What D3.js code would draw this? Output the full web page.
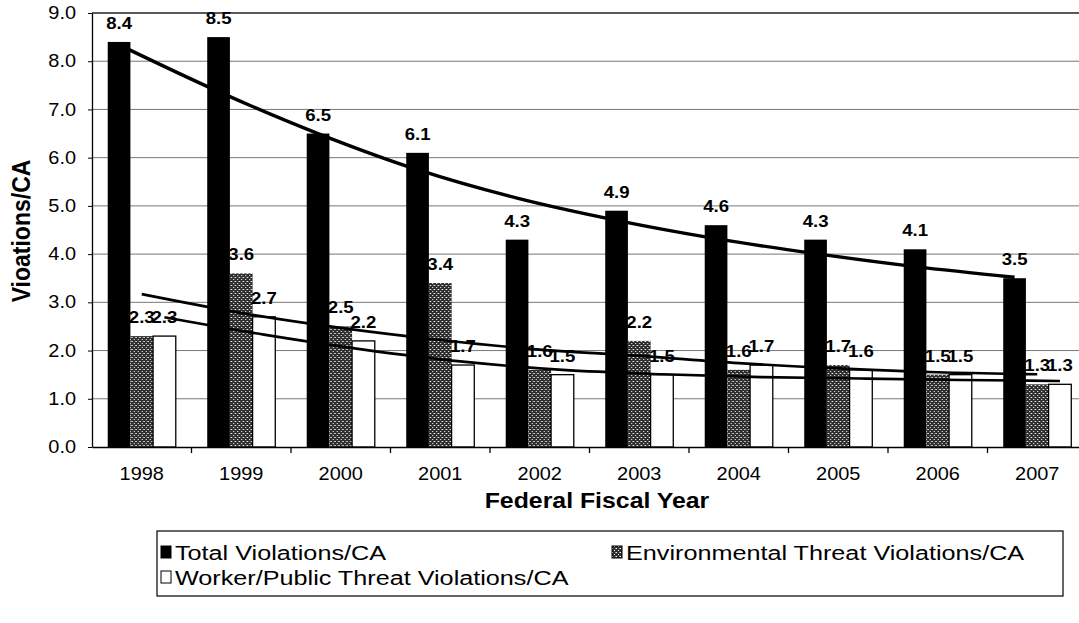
<!DOCTYPE html>
<html lang="en">
<head>
<meta charset="UTF-8">
<title>Violations per CA</title>
<script src="https://d3js.org/d3.v7.min.js"></script>
<style>
  body { margin: 0; background: #fff; }
  text { font-family: "Liberation Sans", Arial, sans-serif; fill: #000; }
</style>
</head>
<body>
<div id="chart"></div>
<script>
// data
const years = ['1998', '1999', '2000', '2001', '2002', '2003', '2004', '2005', '2006', '2007'];
const totalVals  = [8.4, 8.5, 6.5, 6.1, 4.3, 4.9, 4.6, 4.3, 4.1, 3.5];
const envVals    = [2.3, 3.6, 2.5, 3.4, 1.6, 2.2, 1.6, 1.7, 1.5, 1.3];
const workerVals = [2.3, 2.7, 2.2, 1.7, 1.5, 1.5, 1.7, 1.6, 1.5, 1.3];
// trend lines as drawn in the picture (value at each bar centre)
const totalTrend  = [8.34, 7.37, 6.50, 5.75, 5.16, 4.70, 4.32, 4.01, 3.74, 3.52];
const envTrend    = [3.17, 2.78, 2.47, 2.22, 2.02, 1.89, 1.74, 1.63, 1.55, 1.51];
const workerTrend = [2.69, 2.33, 2.02, 1.77, 1.60, 1.51, 1.45, 1.42, 1.39, 1.37];
const yTicks = [0, 1, 2, 3, 4, 5, 6, 7, 8, 9];
const seriesKeys = ['total', 'env', 'worker'];
const seriesNames = ['Total Violations/CA', 'Environmental Threat Violations/CA', 'Worker/Public Threat Violations/CA'];

const margin = {top: 13, right: -8, bottom: 176, left: 92},
    width = 1079 - margin.left - margin.right,
    height = 623 - margin.top - margin.bottom;
const sx = 1.14; // text in the picture is a bit wide

const svg0 = d3.select('#chart').append('svg')
    .attr('width', 1079).attr('height', 623);

const defs = svg0.append('defs');
const pat = defs.append('pattern').attr('id', 'dots')
    .attr('width', 4).attr('height', 4).attr('patternUnits', 'userSpaceOnUse');
pat.append('rect').attr('width', 4).attr('height', 4).attr('fill', '#2e2e2e');
pat.append('rect').attr('x', 0).attr('y', 0).attr('width', 1).attr('height', 1).attr('fill', '#fff');
pat.append('rect').attr('x', 2).attr('y', 2).attr('width', 1).attr('height', 1).attr('fill', '#fff');
pat.append('rect').attr('x', 3).attr('y', 0).attr('width', 1).attr('height', 1).attr('fill', '#999');

const fills = {total: '#000', env: 'url(#dots)', worker: '#fff'};

const svg = svg0.append('g')
    .attr('transform', `translate(${margin.left}, ${margin.top})`);

const x0 = d3.scaleBand().domain(years).range([0, width])
    .paddingInner(0.316).paddingOuter(0.158);
const x1 = d3.scaleBand().domain(seriesKeys).range([0, x0.bandwidth()]);
const y = d3.scaleLinear().domain([0, 9]).range([height, 0]);

// grid
svg.append('g').selectAll('line')
    .data(yTicks.slice(1))
    .join('line')
        .attr('x1', 0).attr('x2', width)
        .attr('y1', d => y(d)).attr('y2', d => y(d))
        .attr('stroke', d => d === 9 ? '#222' : '#777')
        .attr('stroke-width', d => d === 9 ? 1.5 : 1);

// bars
const rows = years.map((yr, i) => ({
    year: yr,
    vals: [
        {key: 'total', v: totalVals[i]},
        {key: 'env', v: envVals[i]},
        {key: 'worker', v: workerVals[i]}
    ]
}));

const groups = svg.selectAll('.grp')
    .data(rows)
    .join('g')
        .attr('class', 'grp')
        .attr('transform', d => `translate(${x0(d.year)}, 0)`);

groups.selectAll('rect')
    .data(d => d.vals)
    .join('rect')
        .attr('x', d => x1(d.key))
        .attr('y', d => y(d.v))
        .attr('width', x1.bandwidth())
        .attr('height', d => height - y(d.v))
        .attr('fill', d => fills[d.key])
        .attr('stroke', d => d.key === 'worker' ? '#000' : 'none')
        .attr('stroke-width', 1.3);

// axes
const yAxis = svg.append('g')
    .call(d3.axisLeft(y).tickValues(yTicks).tickFormat(d3.format('.1f'))
        .tickSize(4).tickSizeOuter(0).tickPadding(10));
yAxis.selectAll('text')
    .style('font-size', '17.5px')
    .attr('transform', `scale(${sx},1)`);
yAxis.select('.domain').attr('stroke-width', 1.3);

const xAxis = svg.append('g')
    .attr('transform', `translate(0, ${height})`)
    .call(d3.axisBottom(x0).tickSize(0).tickPadding(20.4));
xAxis.selectAll('text')
    .style('font-size', '17.5px')
    .attr('transform', `scale(${sx},1)`);
xAxis.select('.domain').attr('stroke-width', 1.3);

// category separators below the axis
const edges = years.map(d => x0(d) - (x0.step() - x0.bandwidth()) / 2);
svg.append('g').selectAll('line')
    .data(edges.slice(1))
    .join('line')
        .attr('x1', d => d).attr('x2', d => d)
        .attr('y1', height).attr('y2', height + 6)
        .attr('stroke', '#000').attr('stroke-width', 1.3);

// trend lines
const trends = [
    {key: 'total', vals: totalTrend, w: 3.4},
    {key: 'env', vals: envTrend, w: 2.6},
    {key: 'worker', vals: workerTrend, w: 2.6}
];
const line = (key) => d3.line()
    .x((d, i) => x0(years[i]) + x1(key) + x1.bandwidth() / 2)
    .y(d => y(d))
    .curve(d3.curveMonotoneX);

svg.selectAll('.trend')
    .data(trends)
    .join('path')
        .attr('class', 'trend')
        .attr('d', d => line(d.key)(d.vals))
        .attr('fill', 'none')
        .attr('stroke', '#000')
        .attr('stroke-width', d => d.w);

// value labels
groups.selectAll('.lbl')
    .data(d => d.vals)
    .join('text')
        .attr('class', 'lbl')
        .attr('transform', d => `translate(${x1(d.key) + x1.bandwidth() / 2}, ${y(d.v) - 13}) scale(${sx},1)`)
        .attr('text-anchor', 'middle')
        .style('font-size', '16.3px')
        .style('font-weight', 'bold')
        .text(d => d3.format('.1f')(d.v));

// axis titles
svg0.append('text')
    .attr('transform', `translate(597, 508) scale(${sx},1)`)
    .attr('text-anchor', 'middle')
    .style('font-size', '21.8px')
    .style('font-weight', 'bold')
    .text('Federal Fiscal Year');

svg0.append('text')
    .attr('transform', `translate(30, 231) rotate(-90) scale(1,${sx})`)
    .attr('text-anchor', 'middle')
    .style('font-size', '23px')
    .style('font-weight', 'bold')
    .text('Vioations/CA');

// legend
const legend = svg0.append('g');
legend.append('rect')
    .attr('x', 157).attr('y', 531).attr('width', 906).attr('height', 65)
    .attr('fill', '#fff').attr('stroke', '#000').attr('stroke-width', 1.2);

const legPos = [{x: 161, y: 552}, {x: 612, y: 552}, {x: 161, y: 577}];
const items = legend.selectAll('.item')
    .data(seriesKeys)
    .join('g')
        .attr('class', 'item')
        .attr('transform', (d, i) => `translate(${legPos[i].x}, ${legPos[i].y})`);
items.append('rect')
    .attr('x', 0).attr('y', -6).attr('width', 10).attr('height', 12)
    .attr('fill', d => fills[d])
    .attr('stroke', '#000').attr('stroke-width', 1);
items.append('text')
    .attr('transform', 'translate(14, 7.5) scale(1.2,1)')
    .style('font-size', '21px')
    .text((d, i) => seriesNames[i]);
</script>
</body>
</html>
